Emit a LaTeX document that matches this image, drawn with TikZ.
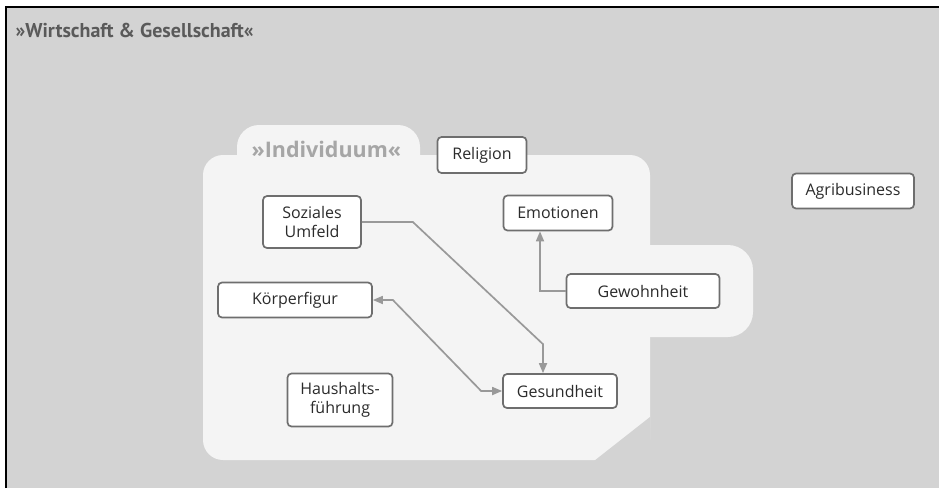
\documentclass[tikz,border=0pt]{standalone}
\usepackage{fontspec}
\setmainfont{Open Sans}
\newfontfamily\titlefont{PT Sans}
\usetikzlibrary{arrows.meta,positioning,calc}
\definecolor{bggray}{HTML}{D3D3D3}
\definecolor{regiongray}{HTML}{F4F4F4}
\definecolor{boxline}{HTML}{6E6E6E}
\definecolor{linkgray}{HTML}{999999}
\definecolor{titlegray}{HTML}{5A5A5A}
\definecolor{labelgray}{HTML}{A6A6A6}
\definecolor{textgray}{HTML}{2B2B2B}
\tikzset{>={Triangle[length=10pt,width=8pt]},
  box/.style={draw=boxline, line width=1.7pt, fill=white, rounded corners=4pt,
    align=center, inner sep=2pt, text=textgray, font=\fontsize{16}{19}\selectfont},
  link/.style={draw=linkgray, line width=1.7pt}}
\begin{document}
\begin{tikzpicture}[x=1pt, y=-1pt]
    \useasboundingbox (0,0) rectangle (939,488);
    % background and frame
    \fill[bggray] (7,8) rectangle (939,488);
    \draw[line width=2.2pt] (6,488) -- (6,7) -- (939,7);
    \node[anchor=base west, text=titlegray, font=\titlefont\bfseries\fontsize{20}{24}\selectfont] (title) at (12,37) {»Wirtschaft \& Gesellschaft«};

    % region Individuum
    \fill[regiongray, rounded corners=22pt] (237,125) rectangle (420,185);
    \fill[regiongray, rounded corners=20pt] (203,155) rectangle (650,460);
    \fill[regiongray, rounded corners=25pt] (600,245) rectangle (753,337);
    \fill[bggray] (650,417) -- (651,461) -- (594,461) -- cycle;
    \node[anchor=base west, text=labelgray, font=\bfseries\fontsize{21.5}{25}\selectfont] (indiv) at (248,157) {»Individuum«};

    % boxes
    \foreach \nm/\pos/\w/\h/\txt in {
        relig/{482,155}/89/36/{Religion},
        soz/{312,222}/98/52/{Soziales\\Umfeld},
        emo/{558,213}/109/35/{Emotionen},
        gew/{643,291}/153/34/{Gewohnheit},
        koerp/{295,300}/154/35/{Körperfigur},
        haus/{340,400}/105/53/{Haushalts-\\führung},
        ges/{560,391}/114/34/{Gesundheit},
        agri/{853,191}/122/35/{Agribusiness}} {
        \node[box, minimum width=\w, minimum height=\h] (\nm) at (\pos) {\txt};
    }

    % connectors
    \draw[link,->] (soz.east) -- ++(51,0) -- ([xshift=-17pt,yshift=29pt]ges.north) -- ([xshift=-17pt]ges.north);
    \draw[link,->] (gew.west) -| ([xshift=-18pt]emo.south);
    \draw[link,<->] (koerp.east) -- ++(20,0) -- ([xshift=-21pt]ges.west) -- (ges.west);
\end{tikzpicture}
\end{document}
